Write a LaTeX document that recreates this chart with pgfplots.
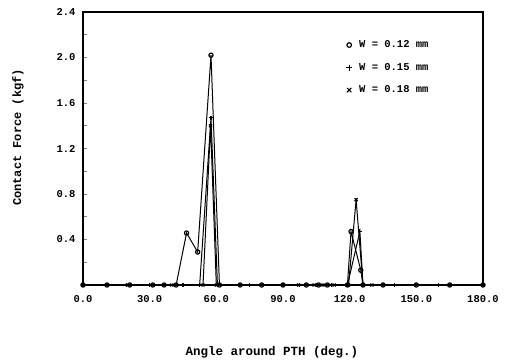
\documentclass[border=0pt]{standalone}
\usepackage{pgfplots}
\pgfplotsset{compat=1.18}
\usepackage{fontspec}
\setmainfont{Liberation Mono}
\setmonofont{Liberation Mono}

\begin{document}
\begin{tikzpicture}
\begin{axis}[
  scale only axis,
  width=400pt, height=273pt,
  xmin=0, xmax=180, ymin=0, ymax=2.4,
  axis line style={line width=1.1pt},
  xtick={0,30,...,180},
  ytick={0.4,0.8,1.2,1.6,2.0,2.4},
  minor ytick={0.2,0.6,1.0,1.4,1.8,2.2},
  ytick pos=left,
  xtick pos=bottom,
  tick align=inside,
  major tick length=4pt, minor tick length=4pt,
  x tick style={draw=none},
  y tick style={line width=0.9pt},
  /pgf/number format/assume math mode=true,
  /pgf/number format/.cd, fixed, fixed zerofill, precision=1, /pgfplots/.cd,
  ticklabel style={font=\bfseries\fontsize{10.5}{12}\selectfont},
  xticklabel style={yshift=-7pt},
  yticklabel style={xshift=-4pt},
  xlabel={Angle around PTH (deg.)},
  ylabel={Contact Force (kgf)},
  xlabel style={at={(axis description cs:0.4725,0)}, anchor=center, yshift=-67pt,
    font=\bfseries\fontsize{12.5}{14}\selectfont},
  ylabel style={at={(axis description cs:-0.1625,0.54)}, anchor=center,
    font=\bfseries\fontsize{12}{14}\selectfont},
  legend cell align=left,
  legend style={draw=none, fill=none, at={(rel axis cs:0.65,0.91)}, anchor=north west,
    font=\bfseries\fontsize{10.5}{12}\selectfont, row sep=10pt, column sep=5pt},
  legend image code/.code={\draw[#1] plot coordinates {(0.05cm,0cm)};},
  every axis plot/.append style={black, line width=1pt, mark size=2.1pt,
    mark options={line width=1.2pt}},
]
% W = 0.12 mm
\addplot[mark=o, forget plot] coordinates {
  (0,0) (10.8,0) (21,0) (31.4,0) (36.5,0) (41.9,0) (46.6,0.457) (51.6,0.29)
  (57.6,2.02) (61.4,0) (70.7,0) (80.4,0) (90,0) (100.5,0) (106,0) (110,0)
  (119,0) (120.6,0.47) (125,0.13) (126,0) (135,0) (150,0) (165,0) (180,0)
};
% W = 0.15 mm
\addplot[mark=+, forget plot] coordinates {
  (0,0) (30,0) (45,0) (52.5,0) (57.6,1.47) (60.5,0) (75,0) (90,0) (105,0)
  (112,0) (119,0) (124.6,0.47) (126,0) (140,0) (160,0) (180,0)
};
% W = 0.18 mm
\addplot[mark=x, forget plot] coordinates {
  (0,0) (20,0) (40,0) (54,0) (57.4,1.40) (60,0) (97,0) (104,0) (108,0)
  (113,0) (119.5,0) (122.9,0.75) (126,0) (130,0) (150,0) (165,0) (180,0)
};
\addlegendimage{only marks, mark=o, line width=1.1pt, mark size=2.3pt}
\addlegendentry{W = 0.12 mm}
\addlegendimage{only marks, mark=+, line width=1.1pt, mark size=3pt}
\addlegendentry{W = 0.15 mm}
\addlegendimage{only marks, mark=x, line width=1.1pt, mark size=3pt}
\addlegendentry{W = 0.18 mm}
\end{axis}
\pgfresetboundingbox
\path (current axis.south west) +(-83pt,-78pt) rectangle +(426pt,285pt);
\end{tikzpicture}
\end{document}
